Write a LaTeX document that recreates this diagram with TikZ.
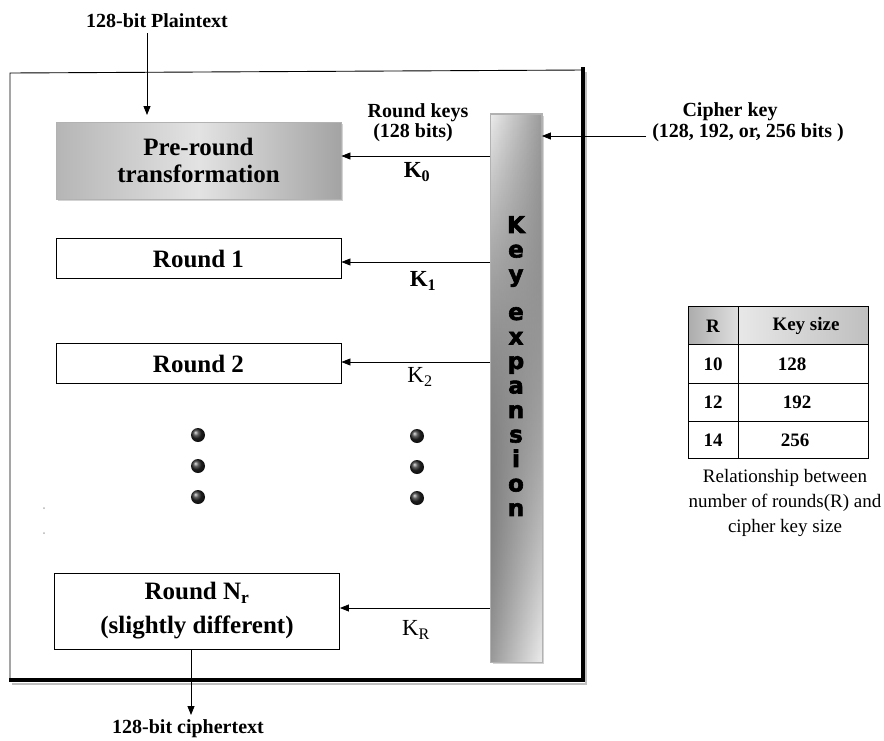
\documentclass[tikz,border=0pt]{standalone}
\usepackage{fontspec}
\setmainfont{Liberation Serif}
\newfontfamily\keyfont{DejaVu Sans}[BoldFeatures={FakeBold=2.5}]
\usetikzlibrary{arrows.meta,fadings,shadows}
\begin{document}
\begin{tikzpicture}[x=1pt,y=-1pt,
  arr/.style={-{Triangle[length=9pt,width=7pt]}, line width=0.8pt},
  lbl/.style={font=\fontsize{20}{22}\selectfont\bfseries, inner sep=0, align=center},
  klbl/.style={font=\fontsize{23}{24}\selectfont, inner sep=0},
  tbl/.style={font=\fontsize{19}{20}\selectfont\bfseries, inner sep=0},
  captext/.style={font=\fontsize{19}{25}\selectfont, inner sep=0, align=center},
  rbox/.style={draw, line width=0.9pt, minimum width=285pt, minimum height=40pt, inner sep=0,
    font=\fontsize{25}{27}\selectfont\bfseries, align=center},
  keyletters/.style={font=\keyfont\fontsize{23}{24.5}\selectfont\bfseries, inner sep=0, align=center},
  dot/.style={circle, minimum size=14pt, inner sep=0, ball color=black!85, draw=none},
]
\useasboundingbox (0,0) rectangle (884,740);

% outer frame
\draw[line width=0.9pt] (583,70) -- (10,73) -- (10,681);
\draw[gray!50, line width=2pt] (12,684) -- (586,684) -- (586,72);
\draw[line width=3.5pt] (583,67) -- (583,680) -- (9,680);
\fill[gray!60] (44,508) circle (1pt);
\fill[gray!60] (44,533) circle (1pt);

% boxes
\node[draw=gray!60, line width=0.8pt, minimum width=285pt, minimum height=77pt, inner sep=0,
  left color=gray!58, right color=gray!72, middle color=gray!22,
  drop shadow={shadow xshift=2pt, shadow yshift=-2pt, opacity=0.35},
  font=\fontsize{25}{27}\selectfont\bfseries, align=center]
  (pre) at (198.5,160.5) {Pre-round\\transformation};
\node[rbox] (r1) at (198.5,258.5) {Round 1};
\node[rbox] (r2) at (198.5,363.5) {Round 2};
\node[rbox, minimum height=76pt, font=\fontsize{25}{34}\selectfont\bfseries] (nr) at (197,611)
  {Round N\textsubscript{r}\\(slightly different)};

% key expansion bar
\node[draw=gray!60, line width=0.8pt, minimum width=51pt, minimum height=548pt, inner sep=0,
  left color=gray!15, right color=gray!78,
  drop shadow={shadow xshift=2pt, shadow yshift=-2pt, opacity=0.35}]
  (kb) at (516,388) {};
\fill[left color=gray!80, right color=gray!15, path fading=north]
  (kb.north west) rectangle (kb.south east);
\draw[gray!60, line width=0.8pt] (kb.north west) rectangle (kb.south east);
\node[keyletters, anchor=north] (kx) at (516,216)
  {K\\e\\y\\[13.5pt]e\\x\\p\\a\\n\\s\\i\\o\\n};

% input / output
\node[lbl] (pt) at (157,21) {128-bit Plaintext};
\coordinate (ptend) at (147,115);
\coordinate (ptstart) at (147,33);
\draw[arr] (ptstart) -- (ptend);
\node[lbl] (ct) at (188,729) {128-bit ciphertext};
\coordinate (ctend) at (191,715);
\draw[arr] (nr.south -| ctend) -- (ctend);

% cipher key
\node[lbl] (ck1) at (730,112) {Cipher key};
\node[lbl] (ck2) at (748,133) {(128, 192, or, 256 bits )};
\coordinate (cks) at (646,136);
\draw[arr] (cks) -- (kb.east |- cks);

% round keys
\node[lbl] (rk1) at (418,113) {Round keys};
\node[lbl] (rk2) at (413,133) {(128 bits)};
\coordinate (y0) at (0,156);
\coordinate (y1) at (0,262);
\coordinate (y2) at (0,362);
\coordinate (yr) at (0,608);
\draw[arr] (kb.west |- y0) -- (pre.east |- y0);
\draw[arr] (kb.west |- y1) -- (r1.east |- y1);
\draw[arr] (kb.west |- y2) -- (r2.east |- y2);
\draw[arr] (kb.west |- yr) -- (nr.east |- yr);
\node[klbl, font=\fontsize{23}{24}\selectfont\bfseries] (k0) at (417,172) {K\textsubscript{0}};
\node[klbl, font=\fontsize{23}{24}\selectfont\bfseries] (k1) at (423,281) {K\textsubscript{1}};
\node[klbl] (k2) at (420,377) {K\textsubscript{2}};
\node[klbl] (kr) at (416,630) {K\textsubscript{R}};

% dots
\foreach \yy [count=\i] in {435,466,497} {
  \node[dot] (dl\i) at (198,\yy) {};
  \node[dot] (dr\i) at (417,\yy+1) {};
}

% table
\shade[left color=gray!65, right color=gray!25] (688,306) rectangle (738,344);
\shade[left color=gray!18, right color=gray!50] (738,306) rectangle (868,344);
\draw[line width=1pt] (688,306) rectangle (868,458);
\draw[line width=1pt] (738,306) -- (738,458);
\foreach \yy in {344,383,421} \draw[line width=1pt] (688,\yy) -- (868,\yy);
\node[tbl] (tR) at (713,326) {R};
\node[tbl] (tK) at (806,326) {Key size};
\node[tbl] (t10) at (713,364) {10};
\node[tbl] (t128) at (792,364) {128};
\node[tbl] (t12) at (713,402) {12};
\node[tbl] (t192) at (797,402) {192};
\node[tbl] (t14) at (713,440) {14};
\node[tbl] (t256) at (795,440) {256};
\node[captext] (caption) at (785,503) {Relationship between\\number of rounds(R) and\\cipher key size};
\end{tikzpicture}
\end{document}
